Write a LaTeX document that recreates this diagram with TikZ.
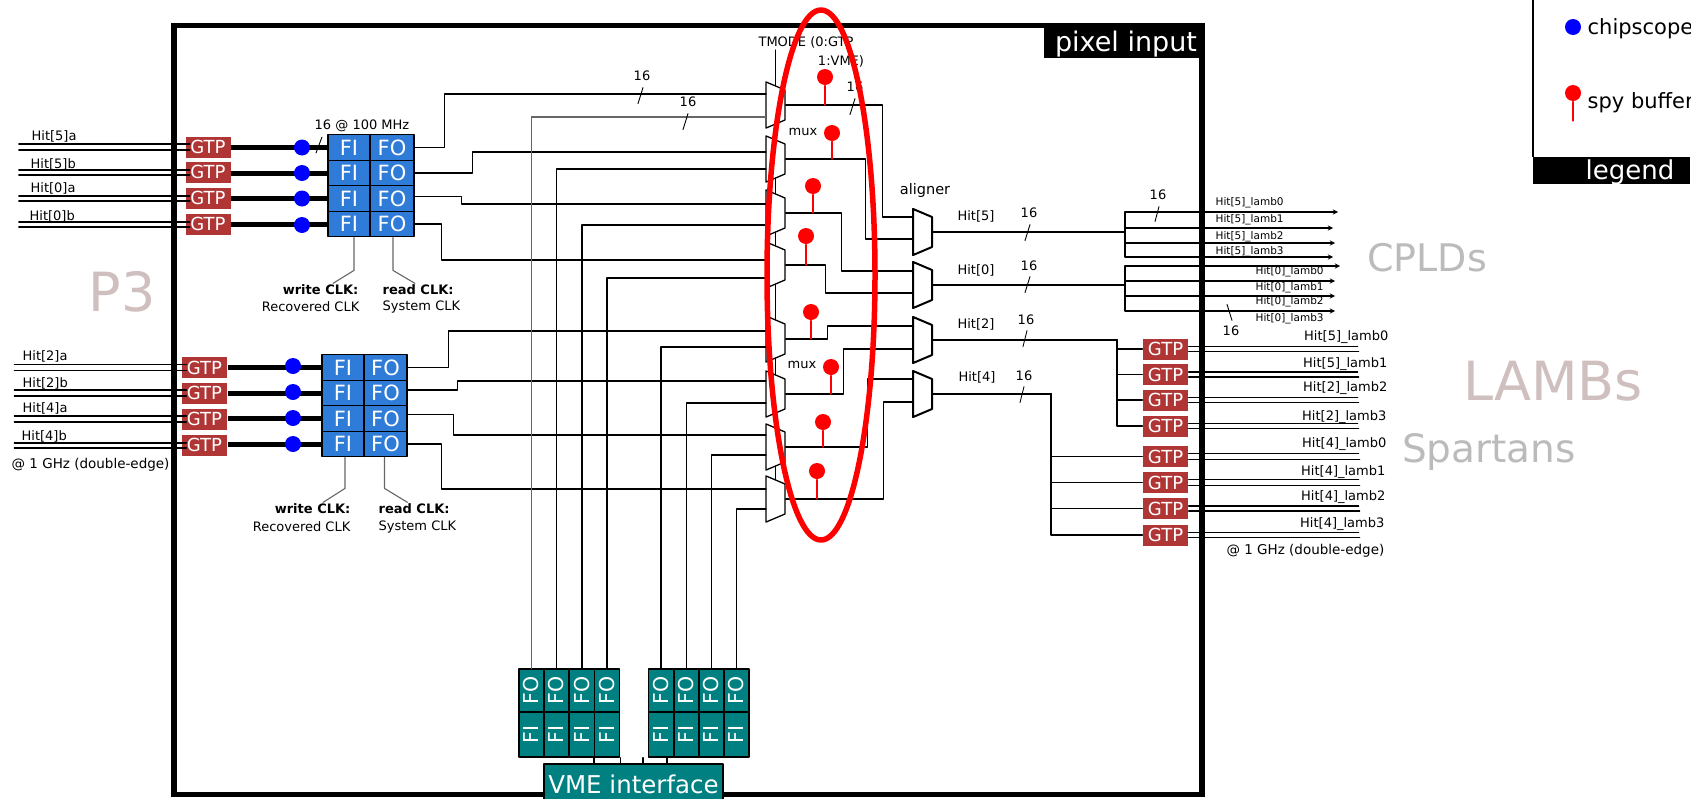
\documentclass[tikz,border=0pt]{standalone}
\usepackage{fontspec}
\setmainfont{DejaVu Sans}
\usetikzlibrary{shapes.geometric,calc}
\definecolor{gtpred}{HTML}{B03535}
\definecolor{fifoblue}{HTML}{2F7BD8}
\definecolor{vmeteal}{HTML}{008080}
\definecolor{rosegray}{HTML}{CFBFBF}
\definecolor{softgray}{HTML}{BBBBBB}
\begin{document}
\begin{tikzpicture}[x=1pt,y=-1pt,line width=1.3pt,line cap=round,line join=round,>=stealth,
	txt/.style={font=\fontsize{13}{15}\selectfont,inner sep=0pt},
	tiny/.style={font=\fontsize{10.5}{12}\selectfont,inner sep=0pt},
	gtp/.style={fill=gtpred,text=white,font=\fontsize{18}{20}\selectfont,inner sep=0pt,minimum width=45pt,minimum height=21pt},
	fifo/.style={draw=black,fill=fifoblue,text=white,line width=1.3pt,font=\fontsize{21}{23}\selectfont,inner sep=0pt,minimum height=25.5pt},
	vfifo/.style={draw=black,fill=vmeteal,text=white,line width=1.3pt,font=\fontsize{20.5}{22}\selectfont,inner sep=0pt,minimum width=25pt},
	mux/.style={draw=black,fill=white,trapezium,trapezium angle=67,rotate=-90,inner sep=0pt,text width=30pt,text height=19pt,text depth=0pt},
	probe/.style={circle,fill=blue,inner sep=0pt,minimum size=16pt},
	spy/.style={circle,fill=red,inner sep=0pt,minimum size=16pt},
	hidden/.style={font=\fontsize{#1}{#1}\selectfont,inner sep=0pt},
	fat/.style={line width=5pt,line cap=butt},
	clk/.style={draw=black!60,line width=1.1pt},
	bit/.style={line width=0.9pt}]
	\useasboundingbox (0,0) rectangle (1708,798);
	\draw[line width=5.5pt,line join=miter] (174,25.5) rectangle (1202,794.5);
	\fill (1044,23) rectangle (1205,58);
	\node[hidden=27,text=white] (boardname) at (1126,44) {pixel input};

	\node[gtp] (gtp1) at (208,147) {GTP};
	\node[gtp] (gtp2) at (208,172) {GTP};
	\node[gtp] (gtp3) at (208,198) {GTP};
	\node[gtp] (gtp4) at (208,224) {GTP};
	\node[gtp] (gtp5) at (204.5,367.5) {GTP};
	\node[gtp] (gtp6) at (204.5,393) {GTP};
	\node[gtp] (gtp7) at (204.5,419) {GTP};
	\node[gtp] (gtp8) at (204.5,445) {GTP};
	\node[gtp] (gtp9) at (1165.5,349) {GTP};
	\node[gtp] (gtp10) at (1165.5,374.5) {GTP};
	\node[gtp] (gtp11) at (1165.5,400) {GTP};
	\node[gtp] (gtp12) at (1165.5,426) {GTP};
	\node[gtp] (gtp13) at (1165.5,456.5) {GTP};
	\node[gtp] (gtp14) at (1165.5,482.5) {GTP};
	\node[gtp] (gtp15) at (1165.5,508.5) {GTP};
	\node[gtp] (gtp16) at (1165.5,535) {GTP};

	\node[fifo,minimum width=42pt] (fi1) at (349,147.5) {FI};
	\node[fifo,minimum width=44pt] (fo1) at (392,147.5) {FO};
	\node[fifo,minimum width=42pt] (fi2) at (349,173) {FI};
	\node[fifo,minimum width=44pt] (fo2) at (392,173) {FO};
	\node[fifo,minimum width=42pt] (fi3) at (349,198.5) {FI};
	\node[fifo,minimum width=44pt] (fo3) at (392,198.5) {FO};
	\node[fifo,minimum width=42pt] (fi4) at (349,224) {FI};
	\node[fifo,minimum width=44pt] (fo4) at (392,224) {FO};
	\node[fifo,minimum width=42pt] (fi5) at (343,367.5) {FI};
	\node[fifo,minimum width=43pt] (fo5) at (385.5,367.5) {FO};
	\node[fifo,minimum width=42pt] (fi6) at (343,393) {FI};
	\node[fifo,minimum width=43pt] (fo6) at (385.5,393) {FO};
	\node[fifo,minimum width=42pt] (fi7) at (343,418.5) {FI};
	\node[fifo,minimum width=43pt] (fo7) at (385.5,418.5) {FO};
	\node[fifo,minimum width=42pt] (fi8) at (343,444) {FI};
	\node[fifo,minimum width=43pt] (fo8) at (385.5,444) {FO};

	\draw[fat] (gtp1.east |- fi1.west) -- (fi1.west);
	\draw[fat] (gtp2.east |- fi2.west) -- (fi2.west);
	\draw[fat] (gtp3.east |- fi3.west) -- (fi3.west);
	\draw[fat] (gtp4.east |- fi4.west) -- (fi4.west);
	\draw[fat] (gtp5.east |- fi5.west) -- (fi5.west);
	\draw[fat] (gtp6.east |- fi6.west) -- (fi6.west);
	\draw[fat] (gtp7.east |- fi7.west) -- (fi7.west);
	\draw[fat] (gtp8.east |- fi8.west) -- (fi8.west);
	\node[probe] (dot1) at (302,147.5) {};
	\node[probe] (dot2) at (302,173) {};
	\node[probe] (dot3) at (302,198.5) {};
	\node[probe] (dot4) at (302,225) {};
	\node[probe] (dot5) at (293,366) {};
	\node[probe] (dot6) at (293,392) {};
	\node[probe] (dot7) at (293,418) {};
	\node[probe] (dot8) at (293,444) {};

	\draw ([shift={(5,-3)}]gtp1.west) -- ++(-171,0);
	\draw ([shift={(5,3)}]gtp1.west) -- ++(-171,0);
	\draw ([shift={(5,-2)}]gtp2.west) -- ++(-171,0);
	\draw ([shift={(5,3)}]gtp2.west) -- ++(-171,0);
	\draw ([shift={(5,-2)}]gtp3.west) -- ++(-171,0);
	\draw ([shift={(5,3)}]gtp3.west) -- ++(-171,0);
	\draw ([shift={(5,-2)}]gtp4.west) -- ++(-171,0);
	\draw ([shift={(5,3)}]gtp4.west) -- ++(-171,0);
	\draw ([shift={(5,-3)}]gtp5.west) -- ++(-172,0);
	\draw ([shift={(5,3)}]gtp5.west) -- ++(-172,0);
	\draw ([shift={(5,-3)}]gtp6.west) -- ++(-172,0);
	\draw ([shift={(5,3)}]gtp6.west) -- ++(-172,0);
	\draw ([shift={(5,-3)}]gtp7.west) -- ++(-172,0);
	\draw ([shift={(5,3)}]gtp7.west) -- ++(-172,0);
	\draw ([shift={(5,-2)}]gtp8.west) -- ++(-172,0);
	\draw ([shift={(5,3)}]gtp8.west) -- ++(-172,0);

	\node[txt,anchor=west] (in1) at (31,136) {Hit[5]a};
	\node[txt,anchor=west] (in2) at (30,164) {Hit[5]b};
	\node[txt,anchor=west] (in3) at (30,188) {Hit[0]a};
	\node[txt,anchor=west] (in4) at (29,216) {Hit[0]b};
	\node[txt,anchor=west] (in5) at (22,356) {Hit[2]a};
	\node[txt,anchor=west] (in6) at (22,383) {Hit[2]b};
	\node[txt,anchor=west] (in7) at (22,408) {Hit[4]a};
	\node[txt,anchor=west] (in8) at (21,436) {Hit[4]b};
	\node[txt,anchor=west,font=\fontsize{13.5}{15}\selectfont] (rate1) at (11,465) {@ 1 GHz (double-edge)};
	\node[txt] (rate2) at (362,126) {16 @ 100 MHz};
	\node[txt,anchor=east] (wr1) at (359,290) {\textbf{write CLK:}};
	\node[txt,anchor=east] (rec1) at (360,307) {Recovered CLK};
	\node[txt,anchor=west] (rd1) at (382,290) {\textbf{read CLK:}};
	\node[txt,anchor=west] (sys1) at (382,307) {System CLK};
	\node[txt,anchor=east] (wr2) at (351,509) {\textbf{write CLK:}};
	\node[txt,anchor=east] (rec2) at (351,527) {Recovered CLK};
	\node[txt,anchor=west] (rd2) at (378,509) {\textbf{read CLK:}};
	\node[txt,anchor=west] (sys2) at (378,527) {System CLK};
	\draw[clk] ([xshift=5pt]fi4.south) -- ++(0,33) -- ++(-21,13);
	\draw[clk] ([xshift=1pt]fo4.south) -- ++(0,33) -- ++(22,13);
	\draw[clk] ([xshift=2pt]fi8.south) -- ++(0,31) -- ++(-22,14);
	\draw[clk] ([xshift=-1pt]fo8.south) -- ++(0,31) -- ++(23,14);
	\draw[bit] (322,137) -- (316,153);

	\node[hidden=54,text=rosegray] (p3) at (122,292) {P3};
	\node[hidden=38,text=softgray] (cplds) at (1427,258) {CPLDs};
	\node[hidden=54,text=rosegray] (lambs) at (1553,381) {LAMBs};
	\node[hidden=39,text=softgray] (spartans) at (1489,452) {Spartans};

	\coordinate (tsel) at (775.5,50);
	\draw (tsel) -- (775.5,490);
	\node[mux] (m1) at (775.5,105) {};
	\node[mux] (m2) at (775.5,159) {};
	\node[mux] (m3) at (775.5,213) {};
	\node[mux] (m4) at (775.5,265) {};
	\node[mux] (m5) at (775.5,339) {};
	\node[mux] (m6) at (775.5,394) {};
	\node[mux] (m7) at (775.5,447) {};
	\node[mux] (m8) at (775.5,499) {};
	\coordinate (m1a) at (766,94);
	\coordinate (m1b) at (766,117);
	\coordinate (m2a) at (766,152);
	\coordinate (m2b) at (766,169);
	\coordinate (m3a) at (766,204);
	\coordinate (m3b) at (766,225);
	\coordinate (m4a) at (766,260);
	\coordinate (m4b) at (766,278);
	\coordinate (m5a) at (766,331);
	\coordinate (m5b) at (766,347);
	\coordinate (m6a) at (766,381);
	\coordinate (m6b) at (766,403);
	\coordinate (m7a) at (766,435);
	\coordinate (m7b) at (766,455);
	\coordinate (m8a) at (766,489);
	\coordinate (m8b) at (766,509);

	\node[mux,line width=2pt] (al1) at (922.5,232) {};
	\node[mux,line width=2pt] (al2) at (922.5,285) {};
	\node[mux,line width=2pt] (al3) at (922.5,340) {};
	\node[mux,line width=2pt] (al4) at (922.5,394) {};
	\coordinate (al1a) at (913,217);
	\coordinate (al1b) at (913,239);
	\coordinate (al2a) at (913,271);
	\coordinate (al2b) at (913,293);
	\coordinate (al3a) at (913,326);
	\coordinate (al3b) at (913,349);
	\coordinate (al4a) at (913,379);
	\coordinate (al4b) at (913,402);

	\draw (fo1.east) -- ++(30,0) |- (m1a);
	\draw (fo2.east) -- ++(58,0) |- (m2a);
	\draw ([yshift=2pt]fo3.east) -- ++(47,0) |- (m3a);
	\draw (fo4.east) -- ++(27,0) |- (m4a);
	\draw (fo5.east) -- ++(41,0) |- (m5a);
	\draw ([yshift=3pt]fo6.east) -- ++(50,0) |- (m6a);
	\draw ([yshift=4pt]fo7.east) -- ++(46,0) |- (m7a);
	\draw (fo8.east) -- ++(34,0) |- (m8a);

	\node[vfifo,minimum height=43pt] (vfo1) at (531.5,690.5) {\rotatebox{90}{FO}};
	\node[vfifo,minimum height=43pt] (vfo2) at (556.5,690.5) {\rotatebox{90}{FO}};
	\node[vfifo,minimum height=43pt] (vfo3) at (582,690.5) {\rotatebox{90}{FO}};
	\node[vfifo,minimum height=43pt] (vfo4) at (607,690.5) {\rotatebox{90}{FO}};
	\node[vfifo,minimum height=43pt] (vfo5) at (661,690.5) {\rotatebox{90}{FO}};
	\node[vfifo,minimum height=43pt] (vfo6) at (686.5,690.5) {\rotatebox{90}{FO}};
	\node[vfifo,minimum height=43pt] (vfo7) at (711.5,690.5) {\rotatebox{90}{FO}};
	\node[vfifo,minimum height=43pt] (vfo8) at (736.5,690.5) {\rotatebox{90}{FO}};
	\node[vfifo,minimum height=45pt] (vfi1) at (531.5,734.5) {\rotatebox{90}{FI}};
	\node[vfifo,minimum height=45pt] (vfi2) at (556.5,734.5) {\rotatebox{90}{FI}};
	\node[vfifo,minimum height=45pt] (vfi3) at (582,734.5) {\rotatebox{90}{FI}};
	\node[vfifo,minimum height=45pt] (vfi4) at (607,734.5) {\rotatebox{90}{FI}};
	\node[vfifo,minimum height=45pt] (vfi5) at (661,734.5) {\rotatebox{90}{FI}};
	\node[vfifo,minimum height=45pt] (vfi6) at (686.5,734.5) {\rotatebox{90}{FI}};
	\node[vfifo,minimum height=45pt] (vfi7) at (711.5,734.5) {\rotatebox{90}{FI}};
	\node[vfifo,minimum height=45pt] (vfi8) at (736.5,734.5) {\rotatebox{90}{FI}};
	\node[draw=black,fill=vmeteal,text=white,line width=1.3pt,font=\fontsize{24.5}{26}\selectfont,inner sep=0pt,minimum width=179pt,minimum height=36pt,text depth=0pt,text height=22pt] (vme) at (633.5,782) {VME interface};
	\draw[draw=black!60,line width=1.8pt] (vfo1.north) |- (m1b);
	\draw (vfo2.north) |- (m2b);
	\draw (vfo3.north) |- (m3b);
	\draw (vfo4.north) |- (m4b);
	\draw (vfo5.north) |- (m5b);
	\draw (vfo6.north) |- (m6b);
	\draw (vfo7.north) |- (m7b);
	\draw (vfo8.north) |- (m8b);
	\draw (vfi4.south west) -- (vfi4.south west |- vme.north);
	\draw (vfi4.south east) -- (vfi4.south east |- vme.north);
	\draw ([xshift=-5pt]vfi5.south west) -- ([xshift=-5pt]vfi5.south west |- vme.north);
	\draw ([xshift=6pt]vfi5.south) -- ([xshift=6pt]vfi5.south |- vme.north);

	\draw (m1.north) -- ++(97,0) |- (al1a);
	\draw (m2.north) -- ++(80,0) |- (al1b);
	\draw (m3.north) -- ++(56,0) |- (al2a);
	\draw (m4.north) -- ++(40,0) |- (al2b);
	\draw (m5.north) -- ++(42,0) |- (al3a);
	\draw (m6.north) -- ++(58,0) |- (al3b);
	\draw (m7.north) -- ++(82,0) |- (al4a);
	\draw (m8.north) -- ++(98,0) |- (al4b);

	\node[txt,font=\fontsize{14.5}{16}\selectfont] (aligntxt) at (925,190) {aligner};
	\node[txt] (tmode) at (806,42) {TMODE (0:GTP};
	\node[txt] (tvme) at (841,61) {1:VME)};
	\node[txt] (muxa) at (803,132) {mux};
	\node[txt] (muxb) at (802,365) {mux};
	\node[txt] (w1) at (642,76) {16};
	\draw[bit] (w1.south) ++(1,6) -- ++(-5,16);
	\node[txt] (w2) at (688,102) {16};
	\draw[bit] (w2.south) ++(0,6) -- ++(-5,16);
	\node[txt] (w3) at (855,87) {16};
	\draw[bit] (w3.south) ++(0,6) -- ++(-5,16);

	\node[spy] (sb1) at (825,77) {};
	\node[spy] (sb2) at (832,133) {};
	\node[spy] (sb3) at (813,186) {};
	\node[spy] (sb4) at (806,236) {};
	\node[spy] (sb5) at (811,312) {};
	\node[spy] (sb6) at (831,367) {};
	\node[spy] (sb7) at (823,422) {};
	\node[spy] (sb8) at (817,471) {};
	\draw[red] (sb1) -- (sb1 |- m1.north);
	\draw[red] (sb2) -- (sb2 |- m2.north);
	\draw[red] (sb3) -- (sb3 |- m3.north);
	\draw[red] (sb4) -- (sb4 |- m4.north);
	\draw[red] (sb5) -- (sb5 |- m5.north);
	\draw[red] (sb6) -- (sb6 |- m6.north);
	\draw[red] (sb7) -- (sb7 |- m7.north);
	\draw[red] (sb8) -- (sb8 |- m8.north);
	\draw[red,line width=5.5pt] (821,275) ellipse [x radius=54,y radius=265];

	\node[txt] (hit5) at (976,216) {Hit[5]};
	\node[txt] (hit0) at (976,270) {Hit[0]};
	\node[txt] (hit2) at (976,324) {Hit[2]};
	\node[txt] (hit4) at (977,377) {Hit[4]};
	\node[txt] (w4) at (1029,213) {16};
	\draw[bit] (w4.south) ++(1,6) -- ++(-5,16);
	\node[txt] (w5) at (1029,266) {16};
	\draw[bit] (w5.south) ++(1,5) -- ++(-5,16);
	\node[txt] (w6) at (1026,320) {16};
	\draw[bit] (w6.south) ++(1,5) -- ++(-4,16);
	\node[txt] (w7) at (1024,376) {16};
	\draw[bit] (w7.south) ++(0,5) -- ++(-4,16);
	\node[txt] (w8) at (1158,195) {16};
	\draw[bit] (w8.south) ++(1,6) -- ++(-4,15);
	\node[txt] (w9) at (1231,331) {16};
	\draw[bit] (w9.north) ++(1,-5) -- ++(-5,-16);

	\coordinate (j1) at (1125,232);
	\coordinate (j2) at (1125,285);
	\coordinate (j3) at (1117,340);
	\coordinate (j4) at (1051,394);
	\draw (al1.north) -- (j1);
	\draw (al2.north) -- (j2);
	\draw (al3.north) -- (j3);
	\draw (al4.north) -- (j4);
	\coordinate (r1) at (1338,212);
	\coordinate (r2) at (1333,228);
	\coordinate (r3) at (1335,243);
	\coordinate (r4) at (1333,257);
	\coordinate (r5) at (1340,266);
	\coordinate (r6) at (1335,281);
	\coordinate (r7) at (1335,296);
	\coordinate (r8) at (1335,311);
	\draw[->] (j1) |- (r1);
	\draw[->] (j1) |- (r2);
	\draw[->] (j1) |- (r3);
	\draw[->] (j1) |- (r4);
	\draw[->] (j2) |- (r5);
	\draw[->] (j2) |- (r6);
	\draw[->] (j2) |- (r7);
	\draw[->] (j2) |- (r8);
	\draw (j3) |- (gtp9.west);
	\draw (j3) |- (gtp10.west);
	\draw (j3) |- (gtp11.west);
	\draw (j3) |- (gtp12.west);
	\draw (j4) |- (gtp13.west);
	\draw (j4) |- (gtp14.west);
	\draw (j4) |- (gtp15.west);
	\draw (j4) |- (gtp16.west);
	\draw ([yshift=2.5pt]gtp9.east) -- ++(169,0);
	\draw ([yshift=-2.5pt]gtp9.east) -- ++(170,0);
	\draw ([yshift=2.5pt]gtp10.east) -- ++(169,0);
	\draw ([yshift=-2.5pt]gtp10.east) -- ++(170,0);
	\draw ([yshift=2.5pt]gtp11.east) -- ++(169,0);
	\draw ([yshift=-2.5pt]gtp11.east) -- ++(170,0);
	\draw ([yshift=2.5pt]gtp12.east) -- ++(169,0);
	\draw ([yshift=-2.5pt]gtp12.east) -- ++(170,0);
	\draw ([yshift=3pt]gtp13.east) -- ++(170,0);
	\draw ([yshift=-3pt]gtp13.east) -- ++(171,0);
	\draw ([yshift=3pt]gtp14.east) -- ++(170,0);
	\draw ([yshift=-3pt]gtp14.east) -- ++(171,0);
	\draw ([yshift=2.5pt]gtp15.east) -- ++(170,0);
	\draw ([yshift=-2.5pt]gtp15.east) -- ++(171,0);
	\draw ([yshift=2.5pt]gtp16.east) -- ++(170,0);
	\draw ([yshift=-2.5pt]gtp16.east) -- ++(171,0);

	\node[tiny,anchor=west] (cp1) at (1215,203) {Hit[5]\_lamb0};
	\node[tiny,anchor=west] (cp2) at (1215,220) {Hit[5]\_lamb1};
	\node[tiny,anchor=west] (cp3) at (1215,237) {Hit[5]\_lamb2};
	\node[tiny,anchor=west] (cp4) at (1215,252) {Hit[5]\_lamb3};
	\node[tiny,anchor=west] (cp5) at (1255,272) {Hit[0]\_lamb0};
	\node[tiny,anchor=west] (cp6) at (1255,288) {Hit[0]\_lamb1};
	\node[tiny,anchor=west] (cp7) at (1255,302) {Hit[0]\_lamb2};
	\node[tiny,anchor=west] (cp8) at (1255,319) {Hit[0]\_lamb3};
	\node[txt,anchor=east] (sp1) at (1389,337) {Hit[5]\_lamb0};
	\node[txt,anchor=east] (sp2) at (1388,364) {Hit[5]\_lamb1};
	\node[txt,anchor=east] (sp3) at (1388,388) {Hit[2]\_lamb2};
	\node[txt,anchor=east] (sp4) at (1387,417) {Hit[2]\_lamb3};
	\node[txt,anchor=east] (sp5) at (1387,444) {Hit[4]\_lamb0};
	\node[txt,anchor=east] (sp6) at (1386,472) {Hit[4]\_lamb1};
	\node[txt,anchor=east] (sp7) at (1386,497) {Hit[4]\_lamb2};
	\node[txt,anchor=east] (sp8) at (1385,524) {Hit[4]\_lamb3};
	\node[txt,anchor=east,font=\fontsize{13.5}{15}\selectfont] (rate3) at (1385,551) {@ 1 GHz (double-edge)};

	\draw[line width=1.5pt,line cap=butt] (1533,0) -- (1533,157);
	\fill (1533,157) rectangle (1690,184);
	\node[hidden=26,text=white] (legendname) at (1630,172) {legend};
	\node[probe] (legprobe) at (1573,27) {};
	\node[spy] (legspy) at (1573,93) {};
	\draw[red] (legspy) -- (1573,121);
	\begin{scope}
		\clip (1580,0) rectangle (1690,157);
		\node[hidden=21,anchor=west] (legtxt1) at (1587,29) {chipscope};
		\node[hidden=21,anchor=west] (legtxt2) at (1587,103) {spy buffer};
	\end{scope}
\end{tikzpicture}
\end{document}
